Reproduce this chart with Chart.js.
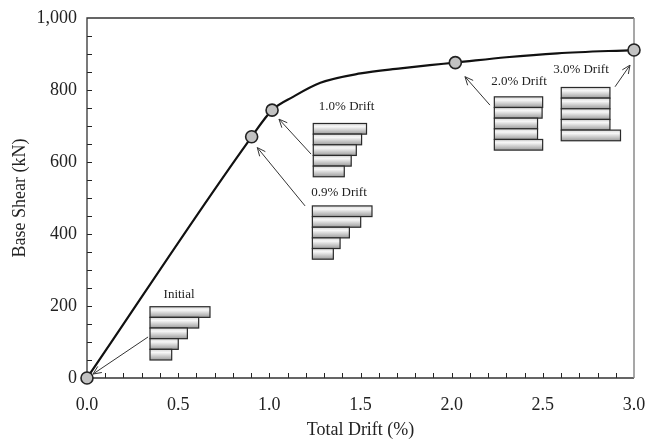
<!DOCTYPE html>
<html>
<head>
<meta charset="utf-8">
<script src="https://cdn.jsdelivr.net/npm/chart.js@4.4.1/dist/chart.umd.min.js"></script>
<style>
  html, body { margin: 0; padding: 0; background: #fff; }
  #wrap { width: 646px; height: 445px; }
</style>
</head>
<body>
<div id="wrap"><canvas id="c" width="646" height="445"></canvas></div>
<script>
// ---- Data ----
const drift = [0, 0.903, 1.015, 1.13, 1.28, 1.5, 1.72, 1.88, 2.02, 2.3, 2.58, 3.0];
const shear = [0, 670, 744, 781, 820, 846, 860, 869, 876, 891, 902, 911];
const markerFlags = [1, 1, 1, 0, 0, 0, 0, 0, 1, 0, 0, 1];

const xTickValues = [0, 0.5, 1.0, 1.5, 2.0, 2.5, 3.0];
const yTickValues = [0, 200, 400, 600, 800, 1000];

// Story shear profiles in the inset diagrams (bar lengths, drift units), top story first
const insetLabels = ['Initial', '0.9% Drift', '1.0% Drift', '2.0% Drift', '3.0% Drift'];
const insetInitial = [0.329, 0.267, 0.205, 0.155, 0.119];
const inset09 = [0.327, 0.265, 0.203, 0.152, 0.115];
const inset10 = [0.292, 0.265, 0.236, 0.208, 0.170];
const inset20 = [0.265, 0.262, 0.237, 0.237, 0.265];
const inset30 = [0.267, 0.267, 0.267, 0.267, 0.325];
const insetBars = [insetInitial, inset09, inset10, inset20, inset30];

// ---- Annotation layout (in axis units) ----
const insetLayout = [
  { left: 0.3455, top: 198, lx: 0.505, ly: 233, from: [0.335, 114], to: [0.033, 11] },
  { left: 1.236,  top: 478, lx: 1.382, ly: 515, from: [1.196, 478], to: [0.934, 640] },
  { left: 1.241,  top: 707, lx: 1.424, ly: 754, from: [1.229, 622], to: [1.053, 719] },
  { left: 2.234,  top: 781, lx: 2.369, ly: 823, from: [2.210, 758], to: [2.073, 837] },
  { left: 2.601,  top: 807, lx: 2.709, ly: 856, from: [2.896, 809], to: [2.978, 869] }
];
const barHeightKN = 29.6;
const SERIF = '"Liberation Serif", "DejaVu Serif", serif';

const overlay = {
  id: 'overlay',
  beforeDatasetsDraw(chart) {
    const ctx = chart.ctx, a = chart.chartArea;
    const xs = chart.scales.x, ys = chart.scales.y;
    ctx.save();
    // minor/major ticks inside
    ctx.strokeStyle = '#222';
    ctx.lineWidth = 1;
    for (let v = 50; v < 1000; v += 50) {
      const y = Math.round(ys.getPixelForValue(v)) + 0.5;
      ctx.beginPath(); ctx.moveTo(a.left, y); ctx.lineTo(a.left + 5, y); ctx.stroke();
    }
    for (let i = 1; i < 30; i++) {
      const x = Math.round(xs.getPixelForValue(i / 10)) + 0.5;
      ctx.beginPath(); ctx.moveTo(x, a.bottom); ctx.lineTo(x, a.bottom - 5); ctx.stroke();
    }
    // frame
    ctx.lineWidth = 1.3;
    ctx.strokeStyle = '#333';
    ctx.beginPath();
    ctx.moveTo(a.right, a.top); ctx.lineTo(a.left, a.top); ctx.lineTo(a.left, a.bottom); ctx.lineTo(a.right, a.bottom);
    ctx.stroke();
    ctx.strokeStyle = '#8a8a8a';
    ctx.lineWidth = 1.5;
    ctx.beginPath(); ctx.moveTo(a.right, a.top); ctx.lineTo(a.right, a.bottom); ctx.stroke();

    // insets
    insetBars.forEach((bars, k) => {
      const L = insetLayout[k];
      const x0 = xs.getPixelForValue(L.left);
      bars.forEach((len, j) => {
        const yTop = ys.getPixelForValue(L.top - j * barHeightKN);
        const yBot = ys.getPixelForValue(L.top - (j + 1) * barHeightKN);
        const x1 = xs.getPixelForValue(L.left + len);
        const g = ctx.createLinearGradient(0, yTop, 0, yBot);
        g.addColorStop(0, '#d9d9d9');
        g.addColorStop(0.3, '#f7f7f7');
        g.addColorStop(1, '#9c9c9c');
        ctx.fillStyle = g;
        ctx.fillRect(x0, yTop, x1 - x0, yBot - yTop);
        ctx.strokeStyle = '#2a2a2a';
        ctx.lineWidth = 1.2;
        ctx.strokeRect(x0, yTop, x1 - x0, yBot - yTop);
      });
      // label
      ctx.fillStyle = '#222';
      ctx.font = '13px ' + SERIF;
      ctx.textAlign = 'center';
      ctx.textBaseline = 'middle';
      ctx.fillText(insetLabels[k], xs.getPixelForValue(L.lx), ys.getPixelForValue(L.ly));
      // arrow
      const fx = xs.getPixelForValue(L.from[0]), fy = ys.getPixelForValue(L.from[1]);
      const tx = xs.getPixelForValue(L.to[0]), ty = ys.getPixelForValue(L.to[1]);
      ctx.strokeStyle = '#333';
      ctx.lineWidth = 1;
      ctx.beginPath(); ctx.moveTo(fx, fy); ctx.lineTo(tx, ty); ctx.stroke();
      const ang = Math.atan2(ty - fy, tx - fx), h = 9, w = 0.42;
      ctx.beginPath();
      ctx.moveTo(tx - h * Math.cos(ang - w), ty - h * Math.sin(ang - w));
      ctx.lineTo(tx, ty);
      ctx.lineTo(tx - h * Math.cos(ang + w), ty - h * Math.sin(ang + w));
      ctx.stroke();
    });
    ctx.restore();
  }
};

new Chart(document.getElementById('c'), {
  type: 'line',
  data: {
    datasets: [{
      data: drift.map((d, i) => ({ x: d, y: shear[i] })),
      borderColor: '#111',
      borderWidth: 2.2,
      cubicInterpolationMode: 'monotone',
      pointRadius: markerFlags.map(f => f ? 6 : 0),
      pointBackgroundColor: '#c2c2c2',
      pointBorderColor: '#222',
      pointBorderWidth: 1.6,
      clip: false
    }]
  },
  options: {
    responsive: false,
    animation: false,
    events: [],
    layout: { padding: { top: 18, right: 12, left: 0, bottom: 0 } },
    plugins: { legend: { display: false }, tooltip: { enabled: false } },
    scales: {
      x: {
        type: 'linear', min: 0, max: 3,
        afterBuildTicks: s => { s.ticks = xTickValues.map(v => ({ value: v })); },
        afterFit: s => { s.height = 67; s.paddingLeft = 0; s.paddingRight = 0; },
        grid: { display: false, drawTicks: false },
        border: { display: false },
        ticks: { padding: 16, color: '#222', font: { family: SERIF, size: 18 }, callback: v => Number(v).toFixed(1), maxRotation: 0 },
        title: { display: true, text: 'Total Drift (%)', color: '#222', font: { family: SERIF, size: 18 }, padding: { top: 0, bottom: 4 } }
      },
      y: {
        min: 0, max: 1000,
        afterBuildTicks: s => { s.ticks = yTickValues.map(v => ({ value: v })); },
        afterFit: s => { s.width = 87; s.paddingTop = 0; s.paddingBottom = 0; },
        grid: { display: false, drawTicks: false },
        border: { display: false },
        ticks: { padding: 10, color: '#222', font: { family: SERIF, size: 18 }, callback: v => Number(v).toLocaleString('en-US') },
        title: { display: true, text: 'Base Shear (kN)', color: '#222', font: { family: SERIF, size: 18 }, padding: { top: 9, bottom: 0 } }
      }
    }
  },
  plugins: [overlay]
});
</script>
</body>
</html>
